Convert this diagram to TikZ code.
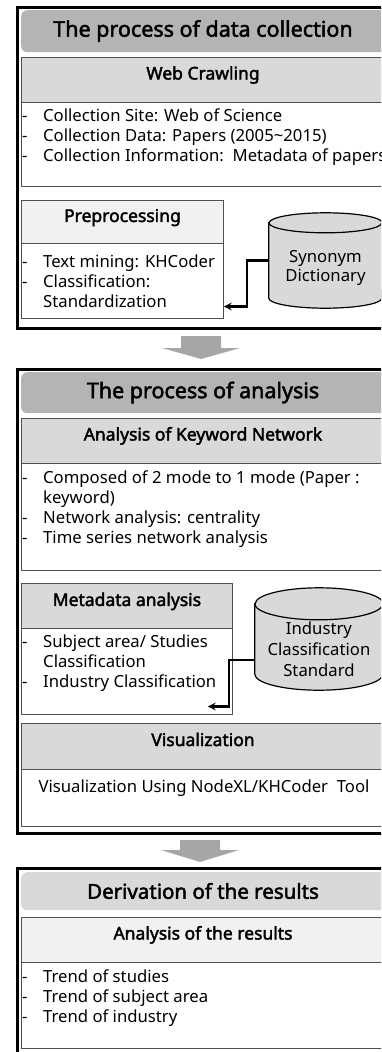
\documentclass[tikz,border=0pt]{standalone}
\usepackage{fontspec}
\setmainfont{Noto Sans}[BoldFont={Noto Sans}, BoldFeatures={FakeBold=2.2}]
\usepackage{xcolor}
\usetikzlibrary{arrows,positioning,calc}

\definecolor{titlegray}{HTML}{B4B4B4}
\definecolor{headgray}{HTML}{D9D9D9}
\definecolor{palegray}{HTML}{F1F1F1}
\definecolor{flowgray}{HTML}{A6A6A6}
\definecolor{rulegray}{HTML}{505050}

\newcommand{\itemdash}{\makebox[21pt][l]{-}}
\newcommand{\itemcont}{\hspace*{21pt}}

\begin{document}
\begin{tikzpicture}[x=1pt, y=-1pt,
  phase/.style={draw=black, line width=3pt, anchor=north west, minimum width=500pt, inner sep=0},
  heading/.style={rounded corners=6pt, anchor=north west, minimum width=500pt, inner sep=0},
  headingtext/.style={inner sep=0, font=\bfseries\fontsize{21.5}{24}\selectfont},
  header/.style={draw=rulegray, line width=0.9pt, anchor=north west, minimum width=500pt, minimum height=45pt, inner sep=0},
  headertext/.style={inner sep=0, text height=8pt, text depth=8pt, font=\bfseries\fontsize{17.5}{20}\selectfont},
  subheader/.style={header, minimum width=202pt, text height=8pt, text depth=8pt, font=\bfseries\fontsize{17.5}{20}\selectfont},
  body/.style={draw=rulegray, line width=0.9pt, anchor=north west, minimum width=500pt, inner sep=0},
  items/.style={anchor=north west, inner sep=0, align=left, font=\fontsize{16.7}{20}\selectfont},
  drum/.style={inner sep=0},
  drumline/.style={draw=black, line width=1.2pt, fill=headgray},
  drumtext/.style={align=center, inner sep=0, font=\fontsize{16.7}{18.5}\selectfont},
  feed/.style={->, >=stealth, line width=2.4pt},
  flow/.style={fill=flowgray}
]
\useasboundingbox (0,0) rectangle (381,1052);
\clip (0,0) rectangle (381,1052);

% data collection
\node[phase, minimum height=321pt] (collect) at (15.5,6) {};
\node[heading, fill=titlegray, minimum height=42pt] (collecttitle) at (21,10) {};
\node[headingtext] at (203,31) {The process of data collection};
\node[header, fill=headgray] (crawl) at (21,57) {};
\node[headertext] at (203,79.5) {Web Crawling};
\node[body, minimum height=84pt] (crawlbody) at (21,102) {};
\node[items] (crawltxt) at (22,108.5) {\itemdash Collection Site: Web of Science\\
  \itemdash Collection Data: Papers (2005\textasciitilde2015)\\
  \itemdash Collection Information:\ \ Metadata of papers};
\node[subheader, fill=palegray, minimum height=43pt] (prep) at (21,200) {Preprocessing};
\node[body, minimum width=202pt, minimum height=75pt] (prepbody) at (21,243) {};
\node[items] (preptxt) at (22,254.5) {\itemdash Text mining: KHCoder\\
  \itemdash Classification:\\
  \itemcont Standardization};
\node[drum, minimum width=113pt, minimum height=75pt] (syn) at (325.5,260.5) {};
\draw[drumline] (syn.north west) -- (syn.south west)
  arc[start angle=180, end angle=360, x radius=56.5pt, y radius=10pt] -- (syn.north east)
  arc[start angle=0, end angle=180, x radius=56.5pt, y radius=10pt] -- cycle;
\draw[line width=1.2pt] (syn.north west) arc[start angle=180, end angle=360, x radius=56.5pt, y radius=10pt];
\node[drumtext] (syntxt) at (325.5,268) {Synonym\\Dictionary};
\draw[feed] (syn.west) -- ++(-22,0) |- ([yshift=-25.5pt]prepbody.east);

\fill[flow] (181,336) -- (221,336) -- (221,348) -- (240,348) -- (201,359) -- (162,348) -- (181,348) -- cycle;

% analysis
\node[phase, minimum height=464pt] (analysis) at (15.5,368) {};
\node[heading, fill=titlegray, minimum height=41pt] (analysistitle) at (21,372) {};
\node[headingtext] at (203,392.5) {The process of analysis};
\node[header, fill=headgray] (keyword) at (21,418) {};
\node[headertext] at (203,440.5) {Analysis of Keyword Network};
\node[body, minimum height=107pt] (keywordbody) at (21,463) {};
\node[items] (keywordtxt) at (22,470.5) {\itemdash Composed of 2 mode to 1 mode (Paper :\\
  \itemcont keyword)\\
  \itemdash Network analysis: centrality\\
  \itemdash Time series network analysis};
\node[subheader, fill=headgray, minimum width=211pt] (meta) at (21,583) {Metadata analysis};
\node[body, minimum width=211pt, minimum height=86pt] (metabody) at (21,628) {};
\node[items] (metatxt) at (22,634.5) {\itemdash Subject area/ Studies\\
  \itemcont Classification\\
  \itemdash Industry Classification};
\node[drum, minimum width=128pt, minimum height=70pt] (ind) at (319,639) {};
\draw[drumline] (ind.north west) -- (ind.south west)
  arc[start angle=180, end angle=360, x radius=64pt, y radius=16pt] -- (ind.north east)
  arc[start angle=0, end angle=180, x radius=64pt, y radius=16pt] -- cycle;
\node[drumtext, font=\fontsize{16.7}{21}\selectfont] (indtxt) at (319,649) {Industry\\Classification\\Standard};
\draw[line width=1.2pt] (ind.north west) arc[start angle=180, end angle=360, x radius=64pt, y radius=16pt];
\draw[feed] ([yshift=-21pt]ind.west) -- ++(-26,0) |- ([xshift=-25pt,yshift=-35pt]metabody.east);
\node[header, fill=headgray, minimum height=46pt] (vis) at (21,723) {};
\node[headertext] at (203,746) {Visualization};
\node[body, minimum height=57pt] (visbody) at (21,769) {};
\node[items, anchor=center] (vistxt) at (204,788) {Visualization Using NodeXL/KHCoder\ \ Tool};

\fill[flow] (180,840) -- (220,840) -- (220,850) -- (239,850) -- (200,862) -- (161,850) -- (180,850) -- cycle;

% results
\node[phase, minimum height=200pt] (results) at (15.5,867) {};
\node[heading, fill=headgray, minimum height=38pt] (resultstitle) at (21,872) {};
\node[headingtext, font=\bfseries\fontsize{20.5}{23}\selectfont] at (203,891) {Derivation of the results};
\node[header, fill=palegray] (trend) at (21,917) {};
\node[headertext] at (203,939.5) {Analysis of the results};
\node[body, minimum height=86pt] (trendbody) at (21,962) {};
\node[items] (trendtxt) at (22,969.5) {\itemdash Trend of studies\\
  \itemdash Trend of subject area\\
  \itemdash Trend of industry};
\end{tikzpicture}
\end{document}
